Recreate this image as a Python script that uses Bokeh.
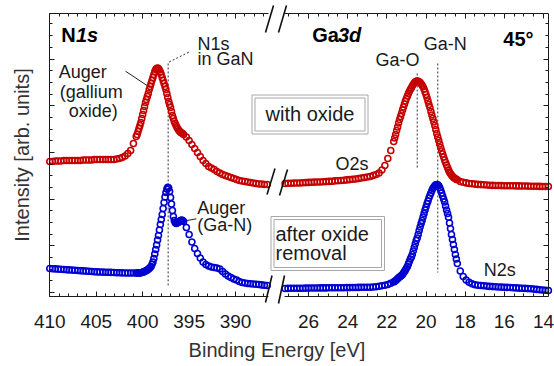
from bokeh.plotting import figure
from bokeh.models import Range1d, LinearAxis, SingleIntervalTicker, Label
from bokeh.embed import file_html
from bokeh.resources import INLINE

# ---------------- data ----------------
# N1s region, binding energy [eV]
n1s_energy = [
    410.0, 409.7, 409.4, 409.1, 408.8, 408.5, 408.2, 407.9, 407.6, 407.3, 407.0, 406.7,
    406.4, 406.1, 405.8, 405.5, 405.2, 404.9, 404.6, 404.3, 404.0, 403.7, 403.4, 403.1,
    402.8, 402.5, 402.2, 401.9, 401.6, 401.3, 401.0, 400.7,
    400.6, 400.5, 400.4, 400.3, 400.2, 400.1, 400.0, 399.9, 399.8, 399.7, 399.6, 399.5,
    399.4, 399.3, 399.2, 399.1, 399.0, 398.9, 398.8, 398.7, 398.6, 398.5, 398.4, 398.3,
    398.2, 398.1, 398.0, 397.9, 397.8, 397.7, 397.6, 397.5, 397.4, 397.3, 397.2, 397.1,
    397.0, 396.9, 396.8, 396.7, 396.6, 396.5, 396.4, 396.3, 396.2, 396.1, 396.0, 395.9,
    395.8, 395.7, 395.6,
    395.3, 395.0, 394.7, 394.4, 394.1, 393.8, 393.5, 393.2, 392.9, 392.6, 392.3, 392.0,
    391.7, 391.4, 391.1, 390.8, 390.5, 390.2, 389.9, 389.6, 389.3, 389.0, 388.7, 388.4,
    388.1, 387.8, 387.5, 387.2, 386.9, 386.6,
]
n1s_with_oxide = [
    131, 131, 131.5, 131.5, 131.5, 132, 132, 132, 132, 132, 132, 132,
    132.5, 132.5, 132.5, 132.5, 133, 133, 133, 133, 133, 133, 133, 133,
    133.5, 134, 135, 136.5, 139, 142, 149, 156,
    158, 161, 164, 167, 170, 174, 178, 182, 186, 190, 193, 196,
    199, 203, 206, 209, 212, 215, 218, 221, 223, 224, 224.5, 224,
    222.5, 220.5, 218, 215, 212, 209, 206, 203, 199, 195, 191, 188,
    185, 181, 177, 174, 171, 169, 167, 165, 163.5, 162, 161, 160,
    159.5, 159, 158,
    155.5, 152, 148, 144, 140, 136, 132, 129, 126, 124.5, 123, 121,
    119.5, 118, 117, 116, 115, 114, 113, 112, 111.5, 111, 110.5, 110,
    109.5, 109, 108.5, 108.5, 108, 108,
]
n1s_after_removal = [
    24, 23.8, 23.6, 23.4, 23.2, 23, 22.8, 22.6, 22.4, 22.2, 22, 21.8,
    21.6, 21.4, 21.2, 21, 20.8, 20.6, 20.5, 20.4, 20.3, 20.2, 20.1, 20,
    19.8, 19.7, 19.6, 19.5, 19.5, 19.5, 19.5, 19.5,
    19.5, 19.5, 19.5, 19.5, 19.7, 20, 20.3, 20.6, 21, 21.5, 22, 22.5,
    23.2, 24, 25, 26, 28, 30.5, 34, 38.5, 43, 47.5, 52.5, 57,
    62.5, 68, 73, 78, 84, 90, 95.5, 100, 103.5, 105.3, 104.5, 101,
    95, 88.5, 82, 76, 72, 70, 69, 69.5, 70, 70.5, 71.5, 72,
    72.5, 72, 71,
    65, 58, 50.5, 44, 39, 34.5, 30.5, 28, 26.5, 25.5, 25, 24.5,
    23.5, 21, 18.5, 16.5, 15, 13.5, 12.5, 11, 10, 9.5, 9, 8.8,
    8.5, 8.3, 8, 7.6, 7.3, 7,
]

# Ga3d region, binding energy [eV]
ga3d_energy = [
    27.2, 27.05, 26.9, 26.75, 26.6, 26.45, 26.3, 26.15, 26.0, 25.85, 25.7, 25.55,
    25.4, 25.25, 25.1, 24.95, 24.8, 24.65, 24.5, 24.35, 24.2, 24.05, 23.9, 23.75,
    23.6, 23.45, 23.3, 23.15, 23.0, 22.85, 22.7, 22.55, 22.4, 22.25, 22.1, 21.95,
    21.8, 21.65,
    21.6, 21.55, 21.5, 21.45, 21.4, 21.35, 21.3, 21.25, 21.2, 21.15, 21.1, 21.05,
    21.0, 20.95, 20.9, 20.85, 20.8, 20.75, 20.7, 20.65, 20.6, 20.55, 20.5, 20.45,
    20.4, 20.35, 20.3, 20.25, 20.2, 20.15, 20.1, 20.05, 20.0, 19.95, 19.9, 19.85,
    19.8, 19.75, 19.7, 19.65, 19.6, 19.55, 19.5, 19.45, 19.4, 19.35, 19.3, 19.25,
    19.2, 19.15, 19.1, 19.05, 19.0, 18.95, 18.9, 18.85, 18.8, 18.75, 18.7, 18.65,
    18.6, 18.55, 18.5, 18.45, 18.4,
    18.25, 18.1, 17.95, 17.8, 17.65, 17.5, 17.35, 17.2, 17.05, 16.9, 16.75, 16.6,
    16.45, 16.3, 16.15, 16.0, 15.85, 15.7, 15.55, 15.4, 15.25, 15.1, 14.95, 14.8,
    14.65, 14.5, 14.35, 14.2, 14.05, 13.9, 13.75,
]
ga3d_with_oxide = [
    109, 109.2, 109.3, 109.4, 109.5, 109.5, 109.7, 109.9, 110.1, 110.3, 110.4, 110.5,
    110.5, 110.7, 110.9, 111.1, 111.3, 111.6, 111.8, 112, 112.3, 112.6, 112.9, 113.2,
    113.5, 114, 114.5, 115, 115.5, 116, 117, 118, 119.5, 122.5, 127, 134,
    142, 151,
    154.5, 158, 162, 165.5, 169.5, 173, 176, 179, 182.5, 185.5, 188.5, 191.5,
    194, 196.5, 199, 201, 203, 204.5, 206.5, 208, 209.5, 210.5, 211.3, 211.5,
    211.3, 210.8, 210, 208.7, 207.3, 205.7, 203.5, 200.8, 198, 195, 191.5, 188,
    185, 181, 177.5, 174, 170.5, 167, 163, 159, 155.5, 152, 148.5, 145,
    141.5, 138.5, 135.5, 132.5, 130, 127.5, 125, 122.5, 120.5, 119, 117.5, 116.3,
    115.3, 114.5, 113.8, 113.2, 112.7,
    111, 110.2, 109.6, 109, 108.7, 108.4, 108.1, 107.9, 107.7, 107.5, 107.3, 107.1,
    107, 107, 106.9, 106.8, 106.8, 106.7, 106.7, 106.6, 106.6, 106.5, 106.5, 106.4,
    106.3, 106.3, 106.2, 106.1, 106, 106, 106,
]
ga3d_after_removal = [
    4.0, 4.1, 4.2, 4.2, 4.3, 4.3, 4.3, 4.4, 4.4, 4.5, 4.5, 4.5,
    4.6, 4.6, 4.6, 4.7, 4.7, 4.7, 4.7, 4.8, 4.8, 4.9, 4.9, 5.0,
    5.0, 5.1, 5.2, 5.2, 5.3, 5.3, 5.5, 5.8, 6.2, 6.7, 7.2, 8.0,
    9.3, 10.5,
    11.2, 11.8, 12.8, 13.8, 14.6, 15.5, 16.3, 17.0, 18.0, 19.5, 21, 22.5,
    24.3, 26, 28.5, 31, 33.5, 35.5, 38, 41.5, 45, 48.5, 52, 54.5,
    58, 62, 65.5, 69, 72, 75.5, 79, 82.5, 85.5, 88.7, 91.5, 94.5,
    97, 99.5, 102, 104, 105.5, 106.8, 107.6, 108, 107.8, 106.8, 105, 102.5,
    99.5, 96.5, 93.5, 90.5, 86.5, 82.5, 79, 75.3, 69.5, 64, 58, 53,
    48, 43, 38, 33.5, 29,
    21.5, 16, 12.5, 10.2, 8.8, 7.8, 7.3, 7.0, 6.7, 6.4, 6.1, 5.9,
    5.7, 5.5, 5.4, 5.3, 5.1, 5.0, 4.8, 4.6, 4.4, 4.3, 4.1, 3.9,
    3.7, 3.4, 3.1, 2.8, 2.5, 2.2, 2.0,
]

# reference peak positions [eV]
n1s_in_gan_ev = 397.26
ga_o_ev = 20.45
ga_n_ev = 19.40

# ---------------- layout / style constants ----------------
W, H = 554, 366
FONT = "Liberation Sans"
INK = "#1a1a1a"
RED = "#c40000"
BLUE = "#0000d0"
BOX_LINE = "#a8a8a8"

# pixel geometry of the broken axis
N1S_REF_EV, N1S_REF_PX, N1S_PX_PER_EV = 410.0, 49.3, 9.29
GA_REF_EV, GA_REF_PX, GA_PX_PER_EV = 14.0, 543.0, 19.58
Y_ZERO_PX = 292.0                      # intensity scale: 1 unit = 1 px
LEFT_END_PX, RIGHT_START_PX, RIGHT_FRAME_PX = 268, 284, 548
TOP_PX, BOTTOM_PX = 13, 296
TEXT_SHIFT = 0.38                      # baseline correction, in em


def n_ev(px):
    return N1S_REF_EV - (px - N1S_REF_PX) / N1S_PX_PER_EV


def g_ev(px):
    return GA_REF_EV - (px - GA_REF_PX) / GA_PX_PER_EV


def yv(py):
    return Y_ZERO_PX - py


p = figure(width=W, height=H,
           x_range=Range1d(n_ev(0), n_ev(W)), y_range=Range1d(yv(H), yv(0)),
           x_axis_type=None, y_axis_type=None, toolbar_location=None,
           output_backend="svg", min_border=0, title=None)
p.extra_x_ranges = {"ga": Range1d(g_ev(0), g_ev(W))}
p.outline_line_color = None
p.background_fill_color = "white"
p.border_fill_color = "white"

# ---------------- boxes (double grey frame) ----------------
def box(x0, x1, y0, y1):
    p.patch([n_ev(x0), n_ev(x1), n_ev(x1), n_ev(x0)], [yv(y0), yv(y0), yv(y1), yv(y1)],
            fill_color="white", line_color=BOX_LINE, line_width=1)
    p.patch([n_ev(x0 + 3), n_ev(x1 - 3), n_ev(x1 - 3), n_ev(x0 + 3)],
            [yv(y0 + 3), yv(y0 + 3), yv(y1 - 3), yv(y1 - 3)],
            fill_color="white", line_color=BOX_LINE, line_width=1)

box(251.5, 367.5, 94.5, 133.5)
box(270.5, 384.0, 216.0, 270.0)

# ---------------- reference lines ----------------
p.line([n_ev(188.3), n1s_in_gan_ev, n1s_in_gan_ev], [yv(51.7), yv(62), yv(285)],
       line_dash="2 2", line_color="#333333", line_width=1)
p.segment(x0=[ga_o_ev, ga_n_ev], y0=[yv(73), yv(63)], x1=[ga_o_ev, ga_n_ev],
          y1=[yv(167), yv(272)], x_range_name="ga",
          line_dash="2 2", line_color="#333333", line_width=1)
# leader lines for Auger labels
p.segment(x0=[n_ev(125), n_ev(182.7)], y0=[yv(70.7), yv(220.7)],
          x1=[n_ev(150), n_ev(196)], y1=[yv(87.3), yv(218.3)],
          line_color="#222222", line_width=1)

# ---------------- spectra ----------------
MK = dict(marker="circle", size=6, fill_color=None, line_width=1.6)
p.scatter(n1s_energy, n1s_with_oxide, line_color=RED, **MK)
p.scatter(n1s_energy, n1s_after_removal, line_color=BLUE, **MK)
p.scatter(ga3d_energy, ga3d_with_oxide, line_color=RED, x_range_name="ga", **MK)
p.scatter(ga3d_energy, ga3d_after_removal, line_color=BLUE, x_range_name="ga", **MK)

# ---------------- axis-break marks ----------------
slashes = [((265, 32), (273, 5)), ((278, 32), (286, 5)),
           ((266.5, 194), (274.5, 168)), ((279, 195), (287, 169)),
           ((265, 302), (271.5, 275)), ((278, 303), (284, 275))]
p.segment(x0=[n_ev(a[0]) for a, b in slashes], y0=[yv(a[1]) for a, b in slashes],
          x1=[n_ev(b[0]) for a, b in slashes], y1=[yv(b[1]) for a, b in slashes],
          line_color="#111111", line_width=1.6)

# ---------------- axes ----------------
def style(ax, labels):
    ax.axis_line_color = INK
    ax.axis_line_width = 1
    ax.major_tick_line_color = INK
    ax.minor_tick_line_color = INK
    ax.major_tick_in = 5
    ax.major_tick_out = 0
    ax.minor_tick_in = 3
    ax.minor_tick_out = 0
    if labels:
        ax.major_label_text_font = FONT
        ax.major_label_text_font_size = "19px"
        ax.major_label_text_color = INK
        ax.major_label_standoff = 18
    else:
        ax.major_label_text_font_size = "1px"
        ax.major_label_text_color = None
    return ax

n_bounds = (n_ev(LEFT_END_PX), N1S_REF_EV)
g_bounds = (g_ev(RIGHT_FRAME_PX), g_ev(RIGHT_START_PX))
y_bounds = (yv(BOTTOM_PX), yv(TOP_PX))

for side, loc, lab in (("below", yv(BOTTOM_PX), True), ("above", yv(TOP_PX), False)):
    p.add_layout(style(LinearAxis(ticker=SingleIntervalTicker(interval=5, num_minor_ticks=5),
                                  fixed_location=loc, bounds=n_bounds), lab), side)
    p.add_layout(style(LinearAxis(x_range_name="ga",
                                  ticker=SingleIntervalTicker(interval=2, num_minor_ticks=4),
                                  fixed_location=loc, bounds=g_bounds), lab), side)

ax_l = style(LinearAxis(ticker=SingleIntervalTicker(interval=46.7, num_minor_ticks=4),
                        fixed_location=N1S_REF_EV, bounds=y_bounds), False)
ax_l.axis_label = "Intensity [arb. units]"
ax_l.axis_label_text_font = FONT
ax_l.axis_label_text_font_size = "20px"
ax_l.axis_label_text_font_style = "normal"
ax_l.axis_label_text_color = "#333333"
ax_l.axis_label_standoff = 17
p.add_layout(ax_l, "left")
p.add_layout(style(LinearAxis(x_range_name="ga",
                              ticker=SingleIntervalTicker(interval=46.7, num_minor_ticks=4),
                              fixed_location=g_ev(RIGHT_FRAME_PX), bounds=y_bounds), False),
             "right")

# ---------------- texts ----------------
def text(px, py, s, size=18, style="normal", align="left", color=INK):
    p.add_layout(Label(x=n_ev(px), y=yv(py - TEXT_SHIFT * size), text=s, text_font=FONT,
                       text_font_size=f"{size}px", text_font_style=style, text_align=align,
                       text_baseline="alphabetic", text_color=color))

text(60.7, 41.7, "N", 20, "bold", color="#000000")
text(75.5, 41.7, "1s", 20, "bold italic", color="#000000")
text(311.7, 41.7, "Ga", 20, "bold", color="#000000")
text(337.5, 41.7, "3d", 20, "bold italic", color="#000000")
text(533.0, 46.5, "45°", 20, "bold", "right", color="#000000")

text(197.0, 50.0, "N1s")
text(197.0, 65.0, "in GaN")
text(58.3, 78.0, "Auger")
text(59.3, 98.5, "(gallium")
text(68.3, 117.0, "oxide)")
text(196.7, 214.7, "Auger")
text(196.7, 231.5, "(Ga-N)")
text(375.0, 66.7, "Ga-O")
text(423.3, 50.0, "Ga-N")
text(335.0, 170.0, "O2s")
text(483.3, 276.7, "N2s")

text(309.5, 121.5, "with oxide", 20, align="center")
text(275.0, 241.0, "after oxide", 20)
text(275.0, 260.0, "removal", 20)

text(276.5, 357.5, "Binding Energy [eV]", 20, align="center", color="#333333")

open("out.html", "w").write(file_html(p, INLINE))
